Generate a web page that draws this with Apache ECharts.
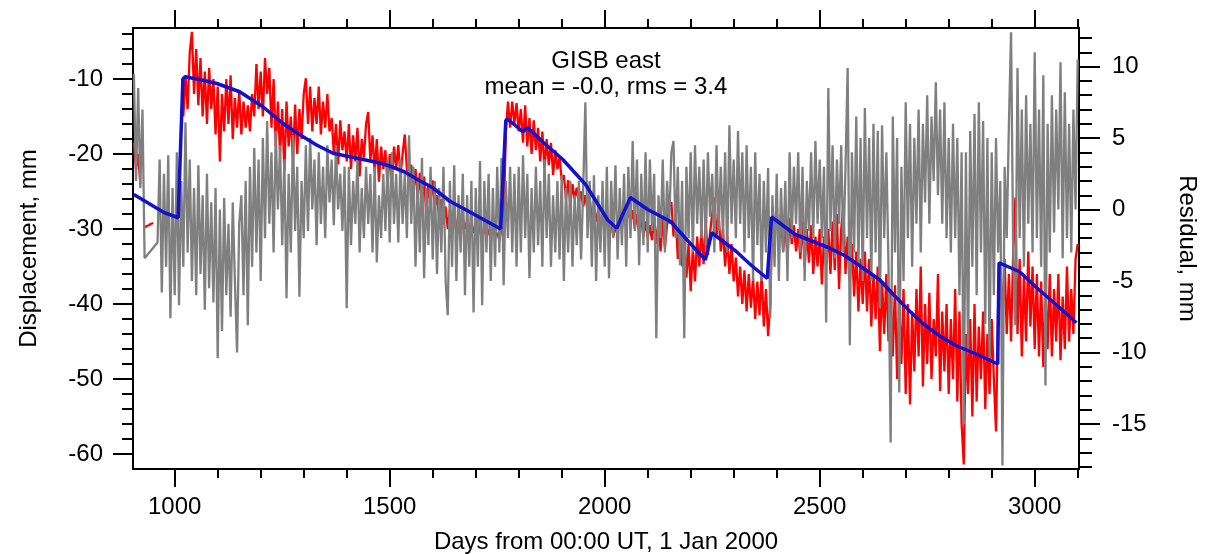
<!DOCTYPE html>
<html>
<head>
<meta charset="utf-8">
<title>GISB east</title>
<style>
	html, body { margin: 0; padding: 0; background: #fff; }
	#chart { width: 1206px; height: 554px; }
</style>
<script src="https://cdn.jsdelivr.net/npm/echarts@6/dist/echarts.min.js"></script>
</head>
<body>
<div id="chart"></div>
<script>
	// sampling of the observed series: first day and spacing (days)
	var dayStart = 905;
	var dayStep = 5;

	// east displacement, mm (red) - one value per 5 days, null = no data
	var dispValues = [
		-18.5, -22.0, -20.0, -24.0, null, -29.8, -29.6, -29.5, -29.3, -29.2, null, null, null, null, null, null, null, null, null, null,
		null, null, null, -15.0, -9.5, -14.0, -6.4, -3.7, -12.0, -6.0, -13.5, -7.2, -15.0, -9.0, -16.0, -8.5, -14.0, -10.0, -17.4, -11.0,
		-21.0, -12.0, -17.0, -10.0, -16.0, -9.5, -18.0, -12.5, -16.5, -11.5, -17.4, -13.0, -16.5, -13.5, -17.0, -12.0, -15.0, -8.0, -14.0, -9.0,
		-15.0, -7.2, -12.0, -8.5, -16.5, -10.0, -19.0, -13.0, -20.0, -14.0, -22.4, -13.0, -19.0, -15.0, -21.0, -13.4, -20.0, -14.0, -18.0, -12.0,
		-9.9, -16.0, -11.0, -17.0, -12.5, -16.0, -11.0, -17.4, -13.0, -16.5, -12.0, -17.0, -15.2, -20.0, -16.0, -21.4, -15.5, -19.5, -17.0, -21.0,
		-16.0, -22.0, -17.5, -21.0, -16.5, -23.0, -18.0, -20.5, -16.0, -14.4, -21.0, -17.5, -22.5, -18.0, -23.7, -19.0, -22.0, -19.5, -24.1, -20.0,
		-23.5, -19.0, -22.0, -18.8, -23.0, -20.0, -17.4, -22.0, -24.1, -21.4, -25.0, -22.0, -26.0, -22.5, -27.0, -23.0, -28.0, -24.0, -26.5, -23.5,
		-27.0, -25.5, -28.5, -26.0, -29.4, -27.0, -30.0, -27.5, -29.0, -28.0, -30.5, -28.0, -31.0, -28.5, -30.0, -29.0, -31.1, -29.0, -30.5, -29.5,
		-31.0, -29.0, -31.5, -29.5, -31.0, -30.0, -31.5, -30.0, -31.0, -30.5, -31.5, -30.0, -29.5, -17.0, -13.0, -16.5, -13.0, -16.0, -13.2, -17.0,
		-14.0, -18.5, -13.5, -19.0, -15.2, -20.0, -15.5, -19.5, -16.5, -21.0, -17.0, -22.0, -18.0, -21.5, -18.5, -22.8, -19.5, -22.0, -20.5, -23.5,
		-22.8, -26.0, -23.5, -26.8, -24.0, -26.0, -24.5, -26.5, -25.0, -27.0, -25.5, -27.5, -26.0, -28.5, -27.0, -29.0, -27.5, -29.5, -28.0, -30.0,
		-28.5, -30.5, -29.0, -31.0, -29.5, -31.0, -28.0, -30.0, -27.5, -29.5, -27.0, -29.0, -27.5, -30.0, -28.0, -30.5, -28.5, -31.0, -29.0, -31.1,
		-29.5, -31.5, -28.5, -32.0, -29.0, -33.0, -28.5, -32.5, -29.5, -27.0, -26.4, -31.0, -28.0, -34.0, -30.0, -35.0, -31.0, -36.5, -32.0, -38.3,
		-32.5, -37.0, -31.0, -35.0, -30.0, -34.7, -29.4, -33.5, -30.5, -28.0, -25.8, -31.0, -28.0, -33.0, -30.0, -35.0, -31.0, -36.0, -32.0, -37.0,
		-33.8, -39.0, -35.0, -40.0, -35.5, -41.0, -36.0, -40.5, -36.5, -42.0, -37.0, -41.5, -36.0, -43.0, -38.0, -44.3, -40.0, -27.0, -31.0, -27.5,
		-32.0, -28.0, -33.0, -29.0, -33.8, -28.5, -32.0, -29.5, -33.0, -30.0, -34.0, -29.0, -35.0, -30.0, -34.5, -29.5, -36.0, -31.0, -35.0, -30.0,
		-37.4, -31.0, -35.0, -30.0, -36.0, -29.0, -35.5, -28.0, -38.0, -30.0, -26.8, -36.0, -31.0, -37.0, -32.0, -39.0, -33.0, -41.0, -34.0, -40.0,
		-33.0, -41.0, -34.0, -43.0, -36.0, -42.0, -35.0, -46.3, -37.0, -44.0, -36.0, -45.0, -38.0, -47.0, -37.5, -50.0, -40.0, -48.0, -38.0, -52.0,
		-40.0, -53.4, -41.0, -49.0, -38.0, -47.0, -35.0, -51.0, -40.0, -48.0, -38.5, -50.0, -42.0, -47.0, -36.0, -51.6, -41.0, -49.0, -40.0, -52.0,
		-42.0, -50.0, -38.0, -53.0, -41.0, -56.0, -61.4, -44.0, -52.0, -42.0, -55.0, -40.0, -53.0, -43.0, -50.0, -41.0, -54.0, -44.0, -52.0, -42.0,
		-50.0, -57.0, -40.0, -35.0, -42.0, -34.0, -44.0, -36.0, -45.0, -33.0, -25.8, -44.0, -34.0, -47.0, -36.0, -45.0, -33.0, -43.0, -35.0, -46.0,
		-36.0, -47.0, -37.0, -48.4, -38.0, -46.0, -36.0, -47.0, -38.0, -45.0, -36.0, -47.5, -39.0, -46.0, -35.0, -45.0, -38.0, -44.0, -34.0, -32.0
	];

	// residual after model fit, mm (grey, right axis) - same days, null = gap
	var residValues = [
		9.5, 2.0, 8.5, 1.5, 7.0, -3.4, null, null, null, null, null, -2.3, 3.5, -5.8, 2.5, -4.0, 3.8, -7.6, 1.5, -6.0,
		4.0, -6.7, 2.0, -4.0, 6.1, -3.0, 3.5, -5.0, 1.5, -6.0, 3.1, -4.5, 1.0, -7.0, 2.5, -5.5, 0.5, -6.5, 1.5, -10.4,
		0.0, -8.5, 0.8, -6.0, -1.0, -7.5, 0.5, -5.0, -10.0, -1.0, 1.0, -6.0, 2.0, -8.1, 3.0, -4.0, 4.3, -3.0, 3.5, -5.0,
		5.0, -2.0, 6.2, -1.0, 4.0, -3.0, 5.5, 0.0, 4.5, -2.5, 3.5, -6.2, 2.5, -3.0, 5.2, -1.5, 3.0, -6.1, 2.0, -2.0,
		4.5, -1.5, 5.0, 0.0, 3.5, -2.5, 4.0, -1.0, 3.0, -2.0, 4.5, 0.5, 3.5, -1.1, 4.5, 0.0, 2.5, -1.5, 3.0, -6.9,
		3.0, -2.5, 2.0, -1.0, 3.6, -3.0, 1.5, -2.0, 3.0, -1.0, 2.5, -3.0, 3.0, -3.7, 1.0, -2.0, 2.5, -1.5, 3.5, -2.3,
		4.0, -1.0, 2.5, -2.3, 3.5, -1.0, 2.5, -2.0, 5.2, -1.0, 3.0, -4.0, 2.0, -3.0, 3.6, -4.8, 1.5, -2.5, 3.0, -3.5,
		2.0, -4.5, 1.5, -3.0, 3.0, -5.0, -7.4, 2.0, -4.0, 3.1, -5.0, 1.0, -3.0, 2.5, -6.0, 1.0, -4.0, 2.0, -7.2, 1.5,
		-4.0, 3.4, -6.7, 2.0, -3.0, 2.5, -5.0, 1.5, -4.0, 3.0, -3.0, 3.6, -5.3, 2.0, -2.0, 3.0, -3.0, 2.5, -4.0, 3.0,
		-3.0, 3.8, -2.0, 2.5, -4.8, 1.5, -3.0, 3.0, -2.5, 2.0, -4.0, 3.5, -2.0, 2.5, -4.0, 1.0, -3.0, 2.0, -3.5, 2.4,
		-5.0, 1.5, -3.0, 2.0, -4.0, 1.0, -2.5, 2.0, -3.5, 1.5, 7.5, -2.0, 2.0, -4.0, 2.4, -5.0, 1.0, -3.0, 2.0, -4.0,
		3.0, -4.8, 2.0, -2.0, 3.1, -3.5, 1.5, -2.5, 2.5, -4.0, 3.0, -2.0, 4.8, -1.5, 3.5, -3.9, 2.5, -2.5, 4.0, -3.0,
		3.5, -1.5, 2.5, -9.0, 1.0, -2.0, 3.5, -3.0, 2.0, -1.0, 4.0, 4.8, -2.0, 3.0, -3.9, 2.0, -9.0, 3.0, -2.0, 4.0,
		-3.0, 4.5, -1.0, 3.0, -2.0, 3.5, -2.5, 4.0, -0.5, 2.5, -3.0, 4.5, -1.5, 3.0, -2.0, 4.0, -3.0, 5.9, -1.0, 3.5,
		-2.0, 5.5, -1.0, 4.0, -3.0, 4.5, -2.0, 3.0, -5.0, 4.0, -2.5, 2.5, -5.0, 2.0, -3.0, 2.9, -7.6, 1.0, -4.0, 2.5,
		-5.0, 1.5, -3.0, 2.0, -5.0, 4.0, -2.0, 3.0, -1.0, 4.0, -3.0, 3.0, -5.0, 2.0, -1.5, 4.0, -2.0, 4.8, -1.0, 3.5,
		-2.0, 3.0, -7.9, 8.5, -1.5, 4.5, -3.4, 3.5, -1.0, 4.5, -3.0, 3.0, 9.9, -9.5, 4.0, -3.0, 6.5, -4.0, 5.0, -5.0,
		7.1, -2.0, 5.0, -5.0, 6.0, -3.0, 5.5, -6.9, 5.9, -2.0, 4.0, -4.0, -16.3, 6.5, -3.0, 5.0, -12.8, 3.0, -5.0, 7.5,
		-2.0, 6.0, -4.0, 5.0, -1.0, 7.0, -3.0, 6.0, 0.5, 8.0, -1.0, 6.5, 2.0, 8.9, 1.0, 7.0, -1.0, 7.5, -2.0, 5.0,
		-3.0, 6.0, -2.0, 5.0, -6.0, 4.0, -15.0, 4.0, -10.0, 5.5, -4.0, 6.7, -6.0, 7.5, -3.0, 6.2, -8.0, 5.0, -10.4, 4.0,
		-6.0, 5.0, -3.0, 2.0, -17.9, 3.0, -2.0, 6.0, 12.4, -3.0, -8.1, 9.9, -2.0, 7.0, -4.0, 8.0, -1.0, 6.0, -3.0, 11.0,
		-2.0, 7.0, -4.0, 9.4, -12.3, 6.0, -3.0, 8.0, -1.6, 7.0, 0.0, 10.3, -3.4, 8.2, -2.0, 6.0, -3.0, 7.0, 0.0, 10.5
	];

	// model (blue): days and displacement, mm
	var modelDays = [
		905, 940, 975, 1008, 1019, 1024, 1060, 1098, 1151, 1205,
		1251, 1290, 1330, 1368, 1419, 1469, 1500, 1535, 1565, 1600,
		1640, 1679, 1720, 1758, 1770, 1775, 1809, 1821, 1860, 1902,
		1956, 2007, 2028, 2040, 2060, 2100, 2153, 2200, 2234, 2249,
		2306, 2340, 2378, 2388, 2442, 2521, 2560, 2598, 2640, 2674,
		2710, 2742, 2780, 2819, 2865, 2914, 2917, 2965, 3004, 3058, 3097
	];
	var modelValues = [
		-25.4, -26.6, -27.8, -28.5, -10.0, -9.7, -10.1, -10.6, -11.7, -13.7,
		-15.9, -17.4, -18.8, -19.9, -20.5, -21.1, -21.6, -22.4, -23.4, -24.5,
		-26.3, -27.5, -28.8, -30.0, -15.5, -15.4, -17.0, -16.5, -18.6, -20.7,
		-24.1, -28.8, -29.9, -28.3, -25.8, -27.4, -29.0, -32.0, -34.1, -30.5,
		-33.0, -34.8, -36.6, -28.4, -30.7, -32.5, -33.6, -35.1, -36.8, -38.9,
		-41.0, -42.7, -44.3, -45.6, -46.7, -48.0, -34.5, -35.7, -37.8, -40.5, -42.5
	];

	// ticks
	var dayMajor = [1000, 1500, 2000, 2500, 3000];
	var dayMinor = [1000, 1100, 1200, 1300, 1400, 1500, 1600, 1700, 1800, 1900, 2000,
		2100, 2200, 2300, 2400, 2500, 2600, 2700, 2800, 2900, 3000, 3100];
	var dispMajor = [-60, -50, -40, -30, -20, -10];
	var dispMinor = [-60, -58, -56, -54, -52, -50, -48, -46, -44, -42, -40, -38, -36, -34,
		-32, -30, -28, -26, -24, -22, -20, -18, -16, -14, -12, -10, -8, -6, -4];
	var residMajor = [-15, -10, -5, 0, 5, 10];
	var residMinor = [-18, -17, -16, -15, -14, -13, -12, -11, -10, -9, -8, -7, -6, -5, -4, -3,
		-2, -1, 0, 1, 2, 3, 4, 5, 6, 7, 8, 9, 10, 11, 12];

	var dayMin = 903, dayMax = 3103;
	var dispMin = -62, dispMax = -3.2;
	var residMin = -18.15, residMax = 12.7;

	var fontFamily = '"Liberation Sans", Arial, Helvetica, sans-serif';
	var black = '#000';

	function pairs(values) {
		var out = [];
		for(var i = 0; i < values.length; i++) {
			out.push([dayStart + i * dayStep, values[i]]);
		}
		return out;
	}

	var modelData = [];
	for(var k = 0; k < modelDays.length; k++) {
		modelData.push([modelDays[k], modelValues[k]]);
	}

	function plainNumber(v) {
		return String(v);
	}

	function xAxisOf(pos, ticks, len, labels, name) {
		return {
			type: 'value',
			position: pos,
			min: dayMin,
			max: dayMax,
			name: name || '',
			nameLocation: 'middle',
			nameGap: 61,
			nameTextStyle: { fontSize: 24, color: black, fontFamily: fontFamily },
			splitLine: { show: false },
			axisLine: { show: labels !== null || pos === 'top', onZero: false, lineStyle: { color: black, width: 2 } },
			axisTick: { show: true, inside: false, length: len, customValues: ticks, lineStyle: { color: black, width: 2 } },
			axisLabel: labels ? { show: true, customValues: labels, formatter: plainNumber, margin: 26, fontSize: 24, color: black, fontFamily: fontFamily } : { show: false }
		};
	}

	function yAxisOf(pos, min, max, ticks, len, labels, margin, name, nameGap, nameRotate) {
		var axis = {
			type: 'value',
			position: pos,
			min: min,
			max: max,
			name: name || '',
			nameLocation: 'middle',
			nameGap: nameGap || 0,
			nameTextStyle: { fontSize: 24, color: black, fontFamily: fontFamily },
			splitLine: { show: false },
			axisLine: { show: !!labels, onZero: false, lineStyle: { color: black, width: 2 } },
			axisTick: { show: true, inside: false, length: len, customValues: ticks, lineStyle: { color: black, width: 2 } },
			axisLabel: labels ? { show: true, customValues: labels, formatter: plainNumber, margin: margin, fontSize: 24, color: black, fontFamily: fontFamily } : { show: false }
		};
		if(nameRotate !== undefined) {
			axis.nameRotate = nameRotate;
		}
		return axis;
	}

	var chart = echarts.init(document.getElementById('chart'), null, { renderer: 'canvas' });

	var option = {
		backgroundColor: '#fff',
		animation: false,
		title: {
			text: 'GISB east',
			subtext: 'mean = -0.0, rms = 3.4',
			left: 606,
			top: 49,
			textAlign: 'center',
			padding: 0,
			itemGap: 2,
			textStyle: { fontSize: 24, fontWeight: 'normal', color: black, fontFamily: fontFamily },
			subtextStyle: { fontSize: 24, color: black, fontFamily: fontFamily }
		},
		grid: {
			left: 133,
			right: 127,
			top: 28,
			bottom: 85,
			containLabel: false,
			outerBoundsMode: 'none'
		},
		xAxis: [
			xAxisOf('bottom', dayMajor, 18, dayMajor, 'Days from 00:00 UT, 1 Jan 2000'),
			xAxisOf('bottom', dayMinor, 9, null),
			xAxisOf('top', dayMajor, 18, null),
			xAxisOf('top', dayMinor, 9, null)
		],
		yAxis: [
			yAxisOf('left', dispMin, dispMax, dispMajor, 20, dispMajor, 30, 'Displacement, mm', 92),
			yAxisOf('left', dispMin, dispMax, dispMinor, 11, null),
			yAxisOf('right', residMin, residMax, residMajor, 21, residMajor, 33, 'Residual, mm', 96, -90),
			yAxisOf('right', residMin, residMax, residMinor, 13, null)
		],
		series: [{
				name: 'Displacement',
				type: 'line',
				xAxisIndex: 0,
				yAxisIndex: 0,
				data: pairs(dispValues),
				symbol: 'none',
				connectNulls: false,
				silent: true,
				lineStyle: { color: '#ff0000', width: 2.3 },
				itemStyle: { color: '#ff0000' },
				z: 2
			},
			{
				name: 'Residual',
				type: 'line',
				xAxisIndex: 0,
				yAxisIndex: 2,
				data: pairs(residValues),
				symbol: 'none',
				connectNulls: true,
				silent: true,
				lineStyle: { color: '#7f7f7f', width: 2.3 },
				itemStyle: { color: '#7f7f7f' },
				z: 3
			},
			{
				name: 'Model',
				type: 'line',
				xAxisIndex: 0,
				yAxisIndex: 0,
				data: modelData,
				symbol: 'none',
				silent: true,
				lineStyle: { color: '#1212cc', width: 3.5 },
				itemStyle: { color: '#1212cc' },
				z: 4
			}
		]
	};
	chart.setOption(option);
</script>
</body>
</html>
